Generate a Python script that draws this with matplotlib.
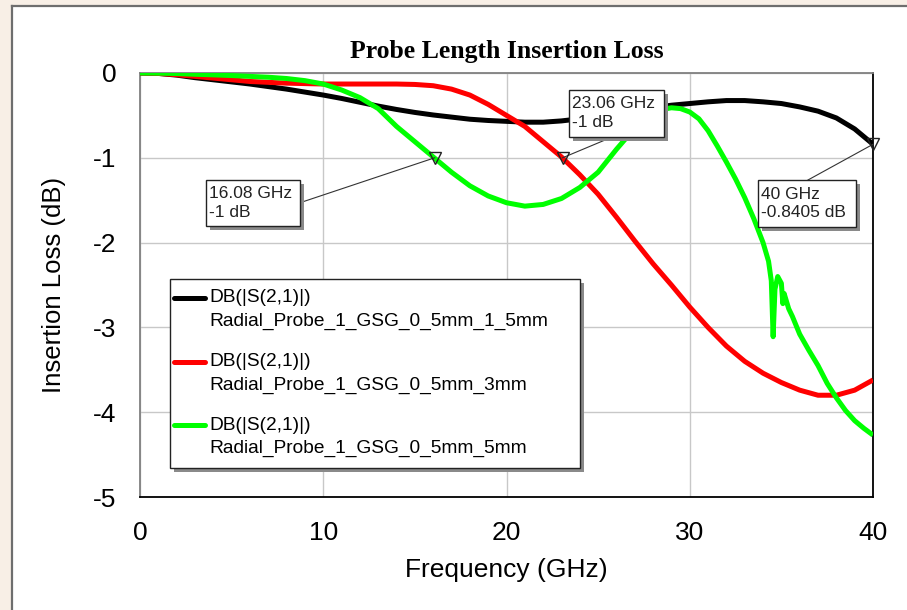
import matplotlib
matplotlib.use('Agg')
import matplotlib.pyplot as plt
from matplotlib.patches import Rectangle
from matplotlib.lines import Line2D
from matplotlib import transforms

plt.rcParams['font.family'] = ['Liberation Sans', 'DejaVu Sans']
plt.rcParams['axes.unicode_minus'] = False

# ---------------- data ----------------
freq_a = [0, 1, 2, 3, 4, 5, 6, 7, 8, 9, 10, 11, 12, 13, 14, 15, 16, 17, 18, 19, 20,
          21, 22, 23, 24, 25, 26, 27, 28, 29, 30, 31, 32, 33, 34, 35, 36, 37, 38, 39, 40]
db_a = [0, -0.005, -0.025, -0.055, -0.08, -0.105, -0.13, -0.16, -0.19, -0.225, -0.26,
        -0.30, -0.345, -0.39, -0.43, -0.465, -0.495, -0.52, -0.545, -0.56, -0.57,
        -0.58, -0.58, -0.565, -0.54, -0.51, -0.48, -0.44, -0.41, -0.38, -0.36,
        -0.34, -0.325, -0.325, -0.34, -0.36, -0.40, -0.45, -0.53, -0.66, -0.84]

freq_b = [0, 1, 2, 3, 4, 5, 6, 7, 8, 10, 12, 14, 15, 16, 17, 18, 19, 20, 21, 22, 23,
          24, 25, 26, 27, 28, 29, 30, 31, 32, 33, 34, 35, 36, 37, 38, 39, 40]
db_b = [0, -0.005, -0.02, -0.04, -0.06, -0.08, -0.10, -0.11, -0.12, -0.13, -0.13,
        -0.13, -0.135, -0.15, -0.19, -0.26, -0.37, -0.50, -0.63, -0.81, -0.99,
        -1.20, -1.43, -1.70, -1.98, -2.25, -2.50, -2.76, -3.00, -3.22, -3.40,
        -3.54, -3.65, -3.74, -3.80, -3.80, -3.74, -3.62]

freq_c = [0, 1, 2, 3, 4, 5, 6, 7, 8, 9, 10, 11, 12, 13, 14, 15, 16, 17, 18, 19, 20,
          21, 22, 23, 24, 25, 26, 27, 28, 28.5, 29, 29.5, 30, 30.5, 31, 31.5, 32, 32.5,
          33, 33.5, 34, 34.3, 34.45, 34.55, 34.65, 34.8, 35.0, 35.08, 35.15, 35.4,
          35.6, 36, 36.5, 37, 37.5, 38, 38.5, 39, 39.5, 40]
db_c = [0, -0.002, -0.006, -0.015, -0.022, -0.03, -0.04, -0.05, -0.065, -0.09, -0.13,
        -0.20, -0.29, -0.42, -0.63, -0.81, -0.99, -1.17, -1.33, -1.45, -1.53,
        -1.57, -1.55, -1.48, -1.35, -1.17, -0.90, -0.65, -0.48, -0.43, -0.41, -0.42,
        -0.46, -0.54, -0.68, -0.86, -1.05, -1.25, -1.47, -1.72, -2.00, -2.22, -2.45,
        -3.11, -2.55, -2.40, -2.48, -2.72, -2.60, -2.78, -2.87, -3.08, -3.27, -3.45,
        -3.66, -3.83, -3.98, -4.10, -4.19, -4.27]

series_freq = [freq_a, freq_b, freq_c]
series_db = [db_a, db_b, db_c]
series_meas = ['DB(|S(2,1)|)', 'DB(|S(2,1)|)', 'DB(|S(2,1)|)']
series_names = ['Radial_Probe_1_GSG_0_5mm_1_5mm',
                'Radial_Probe_1_GSG_0_5mm_3mm',
                'Radial_Probe_1_GSG_0_5mm_5mm']
series_colors = ['#000000', '#ff0000', '#00ff00']

marker_freq = [16.08, 23.06, 40.0]
marker_db = [-1.0, -1.0, -0.8405]
marker_text = ['16.08 GHz\n-1 dB', '23.06 GHz\n-1 dB', '40 GHz\n-0.8405 dB']

xticks = [0, 10, 20, 30, 40]
yticks = [0, -1, -2, -3, -4, -5]

title = 'Probe Length Insertion Loss'
xlabel = 'Frequency (GHz)'
ylabel = 'Insertion Loss (dB)'

# ---------------- figure ----------------
W, H = 907, 610
fig = plt.figure(figsize=(W / 100, H / 100), dpi=100, facecolor='#f8efe6')

px, py = 12 / W, 1 - 6 / H
fig.add_artist(Rectangle((px, 0), 1 - px, py, transform=fig.transFigure,
                         facecolor='white', edgecolor='none', zorder=0))
fig.add_artist(Line2D([px, px], [0, py], transform=fig.transFigure,
                      color='#6e6e6e', lw=1.6, zorder=1))
fig.add_artist(Line2D([px, 1], [py, py], transform=fig.transFigure,
                      color='#6e6e6e', lw=1.6, zorder=1))

ax_l, ax_r, ax_t, ax_b = 140, 873, 73, 497
ax = fig.add_axes([ax_l / W, 1 - ax_b / H, (ax_r - ax_l) / W, (ax_b - ax_t) / H])
ax.set_facecolor('white')
ax.set_xlim(0, 40)
ax.set_ylim(-5, 0)
ax.set_xticks(xticks)
ax.set_yticks(yticks)
ax.set_xticklabels([str(t) for t in xticks])
ax.set_yticklabels([str(t) for t in yticks])
ax.tick_params(length=0, pad=17, labelsize=19)
ax.grid(True, color='#c8c8c8', lw=1.0, zorder=0)
ax.set_axisbelow(True)
for side in ['top', 'left']:
    ax.spines[side].set_color('#808080')
    ax.spines[side].set_linewidth(1.3)
for side in ['bottom', 'right']:
    ax.spines[side].set_color('#000000')
    ax.spines[side].set_linewidth(1.3)

for f, d, c in zip(series_freq, series_db, series_colors):
    ax.plot(f, d, color=c, lw=3.6, zorder=3, solid_joinstyle='round',
            solid_capstyle='butt')

ax.set_title(title, family='Liberation Serif', fontweight='bold', fontsize=18.5, pad=11)
ax.set_xlabel(xlabel, fontsize=19)
ax.xaxis.label.set_va('center')
ax.xaxis.set_label_coords(0.5, -0.172)
ax.set_ylabel(ylabel, fontsize=18.5)
ax.yaxis.label.set_va('center')
ax.yaxis.set_label_coords(-0.118, 0.5)

# ---------------- marker annotations ----------------
shadow_tr = transforms.offset_copy(ax.transData, fig=fig, x=4, y=-4, units='dots')
box_pos = [(3.60, -1.262, 8.73, -1.804), (23.43, -0.20, 28.60, -0.75),
           (33.72, -1.262, 39.07, -1.816)]
lead_start = [(8.73, -1.53), (25.38, -0.79), (36.45, -1.262)]
for (x0, y0, x1, y1), (lx, ly), mf, md, txt in zip(box_pos, lead_start, marker_freq,
                                                    marker_db, marker_text):
    ax.plot([lx, mf], [ly, md], color='#333333', lw=0.8, zorder=5, clip_on=False)
    ax.plot([mf], [md], marker='v', ms=8, mfc='none', mec='#222222', mew=1.0,
            zorder=6, clip_on=False)
    ax.add_patch(Rectangle((x0, y1), x1 - x0, y0 - y1, transform=shadow_tr,
                           facecolor='#8a8a8a', edgecolor='none', zorder=6,
                           clip_on=False))
    ax.add_patch(Rectangle((x0, y1), x1 - x0, y0 - y1, facecolor='white',
                           edgecolor='#222222', lw=1.0, zorder=7, clip_on=False))
    ax.text(x0 + 0.17, (y0 + y1) / 2, txt, fontsize=12.5, color='#222222', ha='left',
            va='center', linespacing=1.3, zorder=8, clip_on=False)

# ---------------- legend ----------------
def axx(p):
    return (p - ax_l) / (ax_r - ax_l)


def axy(p):
    return (ax_b - p) / (ax_b - ax_t)


lg_shadow = transforms.offset_copy(ax.transAxes, fig=fig, x=4, y=-4, units='dots')
lx0, lx1, ly0, ly1 = axx(170), axx(580), axy(279), axy(468)
ax.add_patch(Rectangle((lx0, ly1), lx1 - lx0, ly0 - ly1, transform=lg_shadow,
                       facecolor='#8a8a8a', edgecolor='none', zorder=9, clip_on=False))
ax.add_patch(Rectangle((lx0, ly1), lx1 - lx0, ly0 - ly1, transform=ax.transAxes,
                       facecolor='white', edgecolor='#222222', lw=1.0, zorder=10,
                       clip_on=False))
row_y = [298, 362, 425]
for i, (c, m, n) in enumerate(zip(series_colors, series_meas, series_names)):
    yy = row_y[i]
    ax.add_line(Line2D([axx(174), axx(205)], [axy(yy), axy(yy)], transform=ax.transAxes,
                       color=c, lw=3.6, solid_capstyle='round', zorder=11))
    ax.text(axx(209), axy(yy), m, transform=ax.transAxes, fontsize=13.8, ha='left',
            va='center', zorder=11)
    ax.text(axx(209), axy(yy + 23.5), n, transform=ax.transAxes, fontsize=13.8,
            ha='left', va='center', zorder=11)

fig.savefig('out.png', dpi=100, facecolor=fig.get_facecolor())
